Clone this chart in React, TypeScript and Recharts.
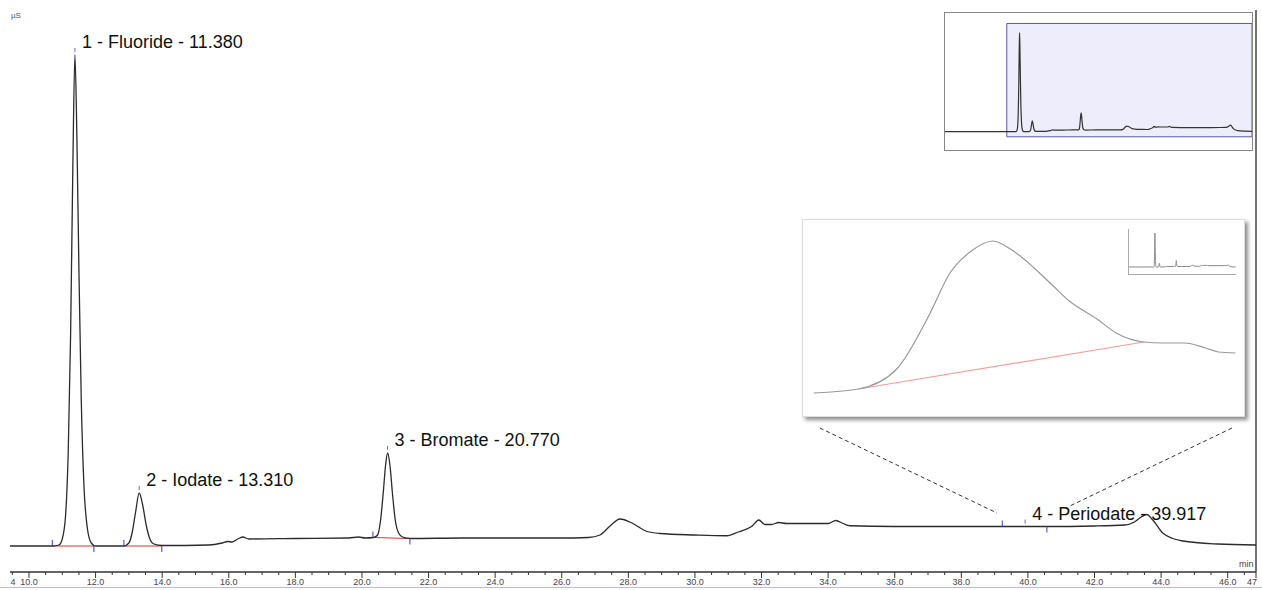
import React from 'react';
import {
  ComposedChart,
  LineChart,
  Line,
  XAxis,
  YAxis,
  Scatter,
  ReferenceLine,
  ReferenceArea
} from 'recharts';

// conductivity trace (min, µS)
const traceTime = [
  0, 9.4, 10.7, 10.9, 11.0, 11.1, 11.18, 11.25, 11.32, 11.38, 11.44, 11.5, 11.57, 11.65, 11.75, 11.87, 12.0,
  12.85, 13.0, 13.1, 13.2, 13.31, 13.42, 13.52, 13.62, 13.75, 14.0,
  15.4, 15.8, 15.97, 16.1, 16.3, 16.42, 16.6, 18.0, 19.6, 19.9, 20.1,
  20.35, 20.47, 20.56, 20.64, 20.71, 20.77, 20.84, 20.92, 21.0, 21.1, 21.22, 21.45,
  23.0, 25.9, 26.8, 27.15, 27.45, 27.75, 28.05, 28.56, 28.95, 30.0, 30.96,
  31.3, 31.7, 31.92, 32.1, 32.3, 32.52, 32.75, 34.0, 34.23, 34.45, 34.65,
  36.0, 39.0, 40.5, 42.0, 42.9, 43.2, 43.4, 43.57, 43.75, 44.05, 44.35, 44.65, 45.7, 46.85
];
const traceSignal = [
  2.8, 2.8, 2.8, 3.0, 4.2, 9, 22, 45, 80, 101, 84, 58, 32, 15, 6.5, 3.4, 2.8,
  2.8, 3.4, 5.5, 9.5, 13.4, 10.8, 7, 4.4, 3.2, 2.9,
  3.0, 3.4, 3.7, 3.6, 4.3, 4.6, 4.2, 4.3, 4.4, 4.6, 4.4,
  4.5, 5, 8, 13.5, 19, 21.4, 19, 13, 8, 5.4, 4.6, 4.3,
  4.4, 4.4, 4.5, 5.0, 6.8, 8.2, 7.6, 5.7, 5.3, 5.0, 4.85,
  5.6, 6.7, 8.0, 7.1, 7.1, 7.5, 7.3, 7.3, 7.9, 7.3, 6.85,
  6.7, 6.7, 6.7, 6.8, 7.0, 7.6, 8.6, 9.1, 8.0, 5.4, 4.3, 3.8, 3.2, 3.0
];

const peakNames = ['1 - Fluoride', '2 - Iodate', '3 - Bromate', '4 - Periodate'];
const peakTimes = [11.38, 13.31, 20.77, 39.917];
const peakHeights = [101, 13.4, 21.4, 6.7];

// integration limits
const baseStartTime = [10.7, 12.85, 20.33, 39.23];
const baseStartLevel = [2.8, 2.8, 4.5, 6.7];
const baseEndTime = [11.95, 13.99, 21.44, 40.57];
const baseEndLevel = [2.8, 2.8, 4.3, 6.7];

// zoomed periodate window
const zoomTime = [39.02, 39.23, 39.41, 39.56, 39.66, 39.76, 39.86, 39.97, 40.13, 40.22, 40.35, 40.44, 40.57, 40.66, 40.76, 40.86, 40.92, 41.0];
const zoomSignal = [0.3, 0.7, 2.7, 8.0, 12.3, 14.5, 15.5, 14.3, 11.3, 9.5, 7.7, 6.3, 5.4, 5.3, 5.3, 4.8, 4.4, 4.3];

const majorTicks = [10, 12, 14, 16, 18, 20, 22, 24, 26, 28, 30, 32, 34, 36, 38, 40, 42, 44, 46];
const timeRange = [9.43, 46.85];
const signalRange = [-2.4, 110];
const edgeLabels = ['4', '47'];

const trace = traceTime.map((t, i) => ({ t, v: traceSignal[i] }));
const zoomTrace = zoomTime.map((t, i) => ({ t, v: zoomSignal[i] }));
const peaks = peakTimes.map((t, i) => ({ t, v: peakHeights[i], label: `${peakNames[i]} - ${t.toFixed(3)}` }));
const marks = [
  ...baseStartTime.map((t, i) => ({ t, v: baseStartLevel[i], kind: 'start' })),
  ...baseEndTime.map((t, i) => ({ t, v: baseEndLevel[i], kind: 'end' }))
];

const minorTicks = majorTicks.flatMap((t) => [t - 0.5, t + 0.5, t + 1]).filter((t) => t > timeRange[0] && t < timeRange[1]);
const allTicks = [timeRange[0], ...majorTicks, ...minorTicks, timeRange[1]].sort((a, b) => a - b);

const FONT = '"Liberation Sans", Arial, sans-serif';

const AxisTick = (props: any) => {
  const { x, y, payload } = props;
  const value = payload.value;
  const isMajor = majorTicks.includes(value);
  let label = '';
  if (isMajor) label = value.toFixed(1);
  if (value === timeRange[0]) label = edgeLabels[0];
  if (value === timeRange[1]) label = edgeLabels[1];
  const len = isMajor || value === timeRange[1] ? 6 : 3;
  return (
    <g>
      {value !== timeRange[0] && <line x1={x} y1={y} x2={x} y2={y + len} stroke="#333" strokeWidth={1} />}
      {label && (
        <text
          x={value === timeRange[0] ? x + 3 : value === timeRange[1] ? x - 4 : x}
          y={y + 13}
          textAnchor="middle"
          fontSize={9}
          fill="#444"
          fontFamily={FONT}
        >
          {label}
        </text>
      )}
    </g>
  );
};

const PeakShape = (props: any) => {
  const { cx, cy, payload } = props;
  return (
    <g>
      <line x1={cx} y1={cy - 7} x2={cx} y2={cy - 3} stroke="#6a6ab0" strokeWidth={1} />
      <text x={cx + 7} y={cy - 7} fontSize={18} fill="#111" fontFamily={FONT}>
        {payload.label}
      </text>
    </g>
  );
};

const MarkShape = (props: any) => {
  const { cx, cy, payload } = props;
  const y2 = payload.kind === 'start' ? cy - 6 : cy + 6;
  return <line x1={cx} y1={cy} x2={cx} y2={y2} stroke="#3a3ac0" strokeWidth={1} />;
};

const App: React.FC = () => {
  return (
    <div style={{ position: 'absolute', left: 0, top: 0, width: 1262, height: 590, background: '#fff', fontFamily: FONT }}>
      <ComposedChart width={1262} height={590} data={trace} margin={{ top: 10, right: 6, left: 10, bottom: 0 }}>
        <XAxis
          dataKey="t"
          type="number"
          domain={timeRange}
          allowDataOverflow
          ticks={allTicks}
          interval={0}
          tick={<AxisTick />}
          tickLine={false}
          tickSize={0}
          tickMargin={0}
          height={18}
          stroke="#333"
          strokeWidth={1.5}
        />
        <YAxis type="number" domain={signalRange} allowDataOverflow hide />
        <ReferenceLine x={timeRange[1]} stroke="#444" strokeWidth={1.5} />
        {baseStartTime.map((t, i) => (
          <ReferenceLine
            key={`base-${i}`}
            segment={[{ x: t, y: baseStartLevel[i] }, { x: baseEndTime[i], y: baseEndLevel[i] }]}
            stroke="#e03030"
            strokeWidth={1}
          />
        ))}
        <ReferenceLine segment={[{ x: 33.75, y: 26.4 }, { x: 39.07, y: 9.4 }]} stroke="#333" strokeDasharray="4 3" />
        <ReferenceLine segment={[{ x: 46.13, y: 26.4 }, { x: 41.26, y: 10.8 }]} stroke="#333" strokeDasharray="4 3" />
        <Line type="monotone" dataKey="v" stroke="#2b2b2b" strokeWidth={1.3} dot={false} isAnimationActive={false} />
        <Scatter data={marks} dataKey="v" shape={<MarkShape />} isAnimationActive={false} />
        <Scatter data={peaks} dataKey="v" shape={<PeakShape />} isAnimationActive={false} />
      </ComposedChart>

      {/* units */}
      <div style={{ position: 'absolute', left: 11, top: 11, fontSize: 8, color: '#555' }}>µS</div>
      <div style={{ position: 'absolute', left: 1239, top: 559, fontSize: 9, color: '#444' }}>min</div>
      <div style={{ position: 'absolute', left: 0, top: 587, width: 1262, height: 1, background: '#e2c060' }} />

      {/* overview */}
      <div style={{ position: 'absolute', left: 944, top: 12, width: 307, height: 137, border: '1.5px solid #888', background: '#fff' }}>
        <LineChart width={307} height={137} data={trace} margin={{ top: 0, right: 0, left: 0, bottom: 0 }}>
          <XAxis dataKey="t" type="number" domain={[0, timeRange[1]]} hide />
          <YAxis type="number" domain={[-15.5, 120.4]} hide />
          <ReferenceArea x1={timeRange[0]} x2={timeRange[1]} y1={signalRange[0]} y2={signalRange[1]} fill="#d8d8f6" fillOpacity={0.45} stroke="#5a5aa8" strokeWidth={1} />
          <Line type="monotone" dataKey="v" stroke="#333" strokeWidth={1.2} dot={false} isAnimationActive={false} />
        </LineChart>
      </div>

      {/* zoomed periodate */}
      <div style={{ position: 'absolute', left: 802, top: 219, width: 441, height: 196, border: '1px solid #ddd', background: '#fff', boxShadow: '3px 3px 4px rgba(0,0,0,0.45)' }}>
        <LineChart width={441} height={196} data={zoomTrace} margin={{ top: 0, right: 0, left: 0, bottom: 0 }}>
          <XAxis dataKey="t" type="number" domain={[38.97, 41.04]} hide />
          <YAxis type="number" domain={[-2, 17.6]} hide />
          <ReferenceLine segment={[{ x: baseStartTime[3], y: zoomSignal[1] }, { x: baseEndTime[3], y: zoomSignal[12] }]} stroke="#f2a0a0" strokeWidth={1.2} />
          <Line type="monotone" dataKey="v" stroke="#999" strokeWidth={1.2} dot={false} isAnimationActive={false} />
        </LineChart>
        <div style={{ position: 'absolute', left: 325, top: 9, width: 107, height: 45, borderLeft: '1px solid #aaa', borderBottom: '1px solid #aaa' }}>
          <LineChart width={107} height={45} data={trace} margin={{ top: 0, right: 0, left: 0, bottom: 0 }}>
            <XAxis dataKey="t" type="number" domain={[0, 47]} hide />
            <YAxis type="number" domain={[-17.4, 112.6]} hide />
            <Line type="monotone" dataKey="v" stroke="#888" strokeWidth={1} dot={false} isAnimationActive={false} />
          </LineChart>
        </div>
      </div>
    </div>
  );
};

export default App;
